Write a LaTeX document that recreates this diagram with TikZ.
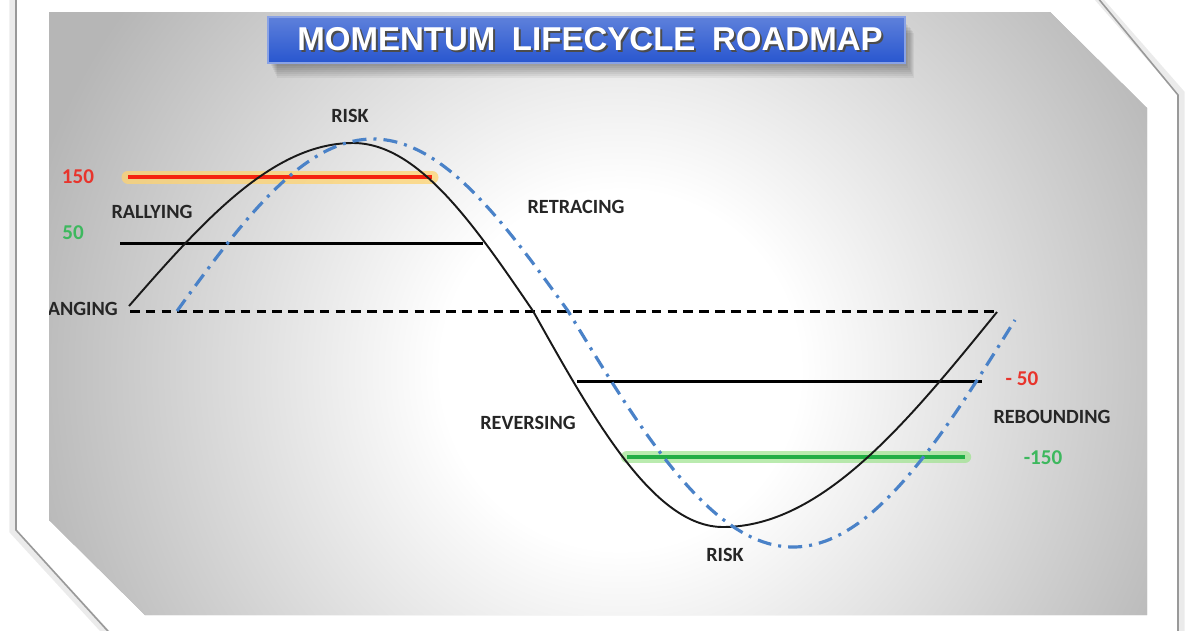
\documentclass[tikz,border=0pt]{standalone}
\usepackage{fontspec}
\setmainfont{Carlito}
\newfontfamily\titlefont{Liberation Sans}
\usetikzlibrary{positioning}

\definecolor{panelgray}{HTML}{B6B6B6}
\definecolor{titleblue}{HTML}{2856CF}
\definecolor{lagblue}{HTML}{4A82C8}
\definecolor{hotred}{HTML}{F5230F}
\definecolor{glowyellow}{HTML}{FFD470}
\definecolor{coolgreen}{HTML}{22AE45}
\definecolor{glowgreen}{HTML}{9EE38E}
\definecolor{numred}{HTML}{E8342C}
\definecolor{numgreen}{HTML}{3DB85E}

\pgfdeclareradialshading{panelglow}{\pgfpoint{0bp}{0bp}}{color(0bp)=(white); color(7bp)=(white); color(24bp)=(panelgray); color(25bp)=(panelgray); color(50bp)=(panelgray)}

\begin{document}
\begin{tikzpicture}[x=0.02cm, y=-0.02cm,
    stage/.style={font=\bfseries\fontsize{11.5}{13}\selectfont, text=black!85},
    level/.style={font=\bfseries\fontsize{12}{13}\selectfont},
    price/.style={line width=1.1pt, black!90},
    lagline/.style={line width=1.8pt, lagblue, dash pattern=on 8pt off 4pt on 1.7pt off 4pt},
    band/.style={line width=1.7pt, black}]

  \useasboundingbox (0,0) rectangle (1200,630);
  \clip (0,0) rectangle (1200,630);

  % white frame and its shadow
  \draw[line width=4pt, black!8] (13,-20) -- (13,531) -- (113,640);
  \draw[line width=4pt, black!8] (1082,-20) -- (1181,93) -- (1181,640);
  \draw[line width=0.9pt, black!40] (16,-20) -- (16,530) -- (116,640);
  \draw[line width=0.9pt, black!40] (1083,-20) -- (1178,95) -- (1178,640);

  \begin{scope}
    \clip (49,12) -- (1050,12) -- (1147,108) -- (1147,615) -- (145,615) -- (49,520) -- cycle;
    \fill[panelgray] (0,0) rectangle (1200,630);
    \shade[shading=panelglow] (620,370) circle [radius=12.8cm];

    % levels
    \draw[line width=7.4pt, glowyellow, opacity=0.75, line cap=round] (128,177) -- (432,177);
    \draw[line width=2.3pt, hotred] (128,177) -- (432,177);
    \draw[band] (120,243) -- (483,243);
    \draw[band, dash pattern=on 5.5pt off 3.5pt] (130,311) -- (997,311);
    \draw[band] (577,381) -- (982,381);
    \draw[line width=7pt, glowgreen, opacity=0.7, line cap=round] (627,457) -- (965,457);
    \draw[line width=2.3pt, coolgreen] (627,457) -- (965,457);

    % momentum and lagging curve
    \draw[price] (129,306) sin (353,143) cos (533,311) sin (723,527) cos (997,312);
    \draw[lagline] (177,311) sin (373,139) cos (568,311) sin (793,547) cos (1015,320);

    \node[level, text=numred]   (n150)  at (78,177)  {150};
    \node[level, text=numgreen] (n50)   at (73,233)  {50};
    \node[level, text=numred]   (nm50)  at (1022,379) {- 50};
    \node[level, text=numgreen] (nm150) at (1043,458) {-150};

    \node[stage] (risktop)  at (350,116) {RISK};
    \node[stage] (rally)    at (152,212) {RALLYING};
    \node[stage, anchor=east] (range) at (124,309) {RANGING};
    \node[stage] (retrace)  at (576,207) {RETRACING};
    \node[stage] (reverse)  at (528,423) {REVERSING};
    \node[stage] (riskbot)  at (725,555) {RISK};
    \node[stage] (rebound)  at (1052,417) {REBOUNDING};
  \end{scope}

  % title banner
  \foreach \i in {1,...,7}
    \fill[black, opacity=0.05] (270+\i,22+1.5*\i) rectangle (906+1.2*\i,64+2*\i);
  \shade[top color=titleblue!75!white, bottom color=titleblue, draw=titleblue!55!white, line width=1pt]
    (268,17) rectangle (905,63);
  \node[font=\titlefont\bfseries\fontsize{18.8}{19}\selectfont, text=black!70] (titleshade) at (592,41.5)
    {MOMENTUM\hspace{0.5em}LIFECYCLE\hspace{0.5em}ROADMAP};
  \node[font=\titlefont\bfseries\fontsize{18.8}{19}\selectfont, text=white] (title) at (590,39.5)
    {MOMENTUM\hspace{0.5em}LIFECYCLE\hspace{0.5em}ROADMAP};
\end{tikzpicture}
\end{document}
